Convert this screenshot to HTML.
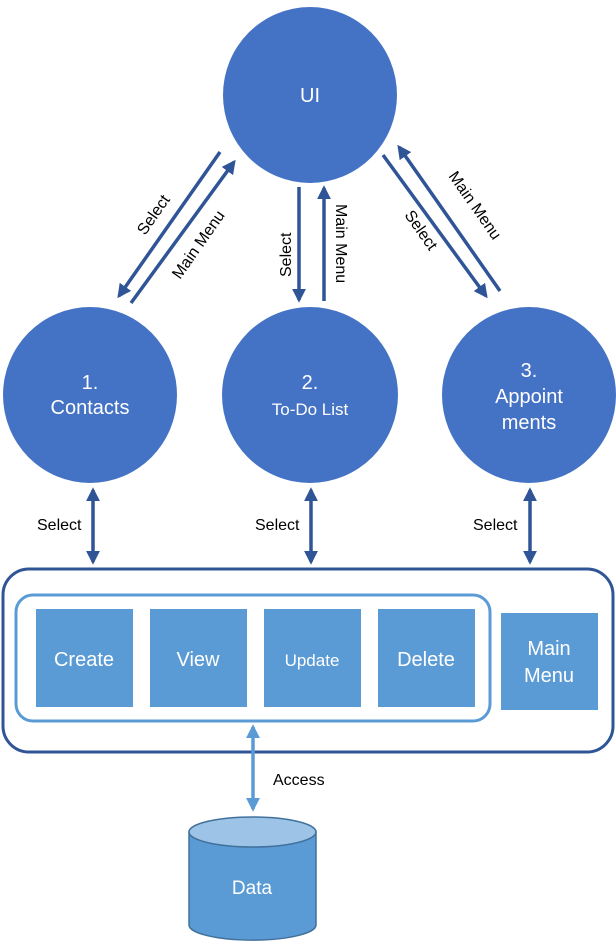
<!DOCTYPE html>
<html><head><meta charset="utf-8"><style>
html,body{margin:0;padding:0;background:#fff;}
svg{display:block;}
text{font-family:"Liberation Sans",sans-serif;}
</style></head><body>
<svg width="616" height="941" viewBox="0 0 616 941">
<defs>
<marker id="a" viewBox="0 0 10 10" refX="8" refY="5" markerWidth="4" markerHeight="4" orient="auto-start-reverse"><path d="M0,0 L10,5 L0,10 z" fill="#2F5597"/></marker>
<marker id="b" viewBox="0 0 10 10" refX="8" refY="5" markerWidth="4" markerHeight="4" orient="auto-start-reverse"><path d="M0,0 L10,5 L0,10 z" fill="#5B9BD5"/></marker>
</defs>
<g fill="#4472C4">
<ellipse cx="310" cy="95" rx="87" ry="88"/>
<ellipse cx="90" cy="395" rx="87" ry="88"/>
<ellipse cx="310" cy="395" rx="88" ry="88"/>
<ellipse cx="529" cy="395" rx="87" ry="88"/>
</g>
<g fill="#fff" text-anchor="middle" font-size="20">
<text x="310" y="102">UI</text>
<text x="90" y="389">1.</text><text x="90" y="414">Contacts</text>
<text x="310" y="389">2.</text><text x="310" y="415" font-size="17">To-Do List</text>
<text x="529" y="377">3.</text><text x="529" y="403">Appoint</text><text x="529" y="429">ments</text>
</g>
<g stroke="#2F5597" stroke-width="3.5" fill="none" marker-end="url(#a)">
<line x1="220" y1="152" x2="119" y2="296"/>
<line x1="131" y1="303" x2="234" y2="162"/>
<line x1="299" y1="187" x2="299" y2="300"/>
<line x1="324" y1="301" x2="324" y2="188"/>
<line x1="383" y1="155" x2="486" y2="296"/>
<line x1="500" y1="291" x2="399" y2="147"/>
<line x1="93" y1="490" x2="93" y2="562" marker-start="url(#a)"/>
<line x1="311" y1="490" x2="311" y2="562" marker-start="url(#a)"/>
<line x1="530" y1="490" x2="530" y2="562" marker-start="url(#a)"/>
</g>
<g fill="#000" font-size="16">
<text transform="translate(145,236) rotate(-55)">Select</text>
<text transform="translate(180,280) rotate(-55)">Main Menu</text>
<text transform="translate(291,277) rotate(-90)">Select</text>
<text transform="translate(336,204) rotate(90)">Main Menu</text>
<text transform="translate(404,215) rotate(55)">Select</text>
<text transform="translate(448,176) rotate(55)">Main Menu</text>
<text x="37" y="530">Select</text>
<text x="255" y="530">Select</text>
<text x="473" y="530">Select</text>
<text x="273" y="785">Access</text>
</g>
<rect x="3" y="569" width="610" height="183" rx="26" fill="none" stroke="#2F5597" stroke-width="3"/>
<rect x="16" y="595" width="474" height="126" rx="17" fill="none" stroke="#5B9BD5" stroke-width="3"/>
<g fill="#5B9BD5">
<rect x="36" y="609" width="97" height="98"/>
<rect x="150" y="609" width="97" height="98"/>
<rect x="264" y="609" width="97" height="98"/>
<rect x="378" y="609" width="97" height="98"/>
<rect x="501" y="613" width="97" height="97"/>
</g>
<g fill="#fff" font-size="20" text-anchor="middle">
<text x="84" y="666">Create</text>
<text x="198" y="666">View</text>
<text x="312" y="666" font-size="17">Update</text>
<text x="426" y="666">Delete</text>
<text x="549" y="655">Main</text>
<text x="549" y="682">Menu</text>
</g>
<line x1="253" y1="727" x2="253" y2="809" stroke="#5B9BD5" stroke-width="3.5" marker-start="url(#b)" marker-end="url(#b)"/>
<path d="M189,832 L189,925 A63,15 0 0 0 316,925 L316,832 Z" fill="#5B9BD5" stroke="#41719C" stroke-width="1.5"/>
<ellipse cx="252.5" cy="832" rx="63.5" ry="15" fill="#9DC3E6" stroke="#41719C" stroke-width="1.5"/>
<text x="252" y="894" fill="#fff" font-size="19" text-anchor="middle">Data</text>
</svg>
</body></html>
